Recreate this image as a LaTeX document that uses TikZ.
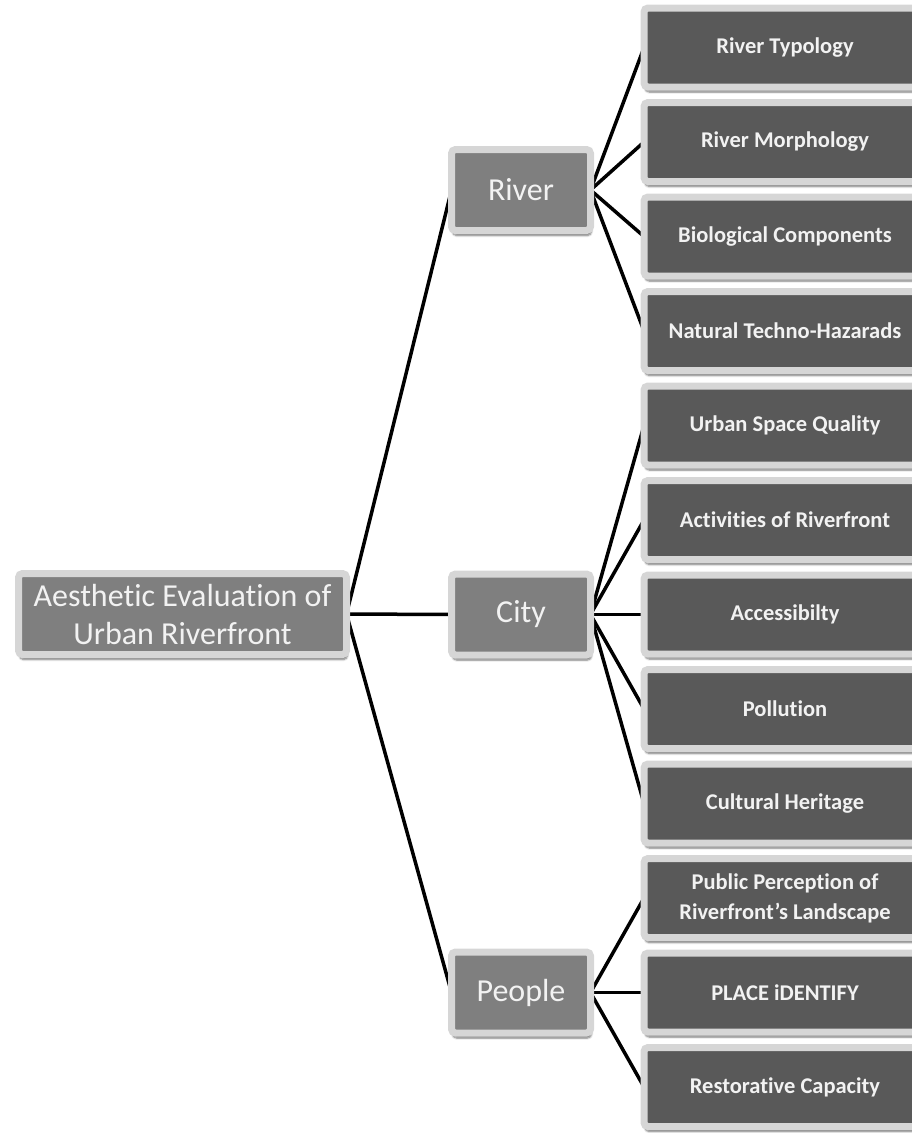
\documentclass[tikz,border=0pt]{standalone}
\usepackage{fontspec}
\setmainfont{Carlito}[Ligatures={TeX,NoCommon}]
\usetikzlibrary{shadows.blur,backgrounds}
\definecolor{midfill}{HTML}{7F7F7F}
\definecolor{leaffill}{HTML}{595959}
\definecolor{rim}{HTML}{D6D6D6}
\definecolor{txt}{HTML}{F2F2F2}
\begin{document}
\begin{tikzpicture}[x=1pt,y=-1pt,
  box/.style={rectangle, rounded corners=4pt, draw=rim, line width=7pt, text=txt,
    align=center, inner sep=0pt, outer sep=0pt,
    blur shadow={shadow xshift=1pt, shadow yshift=-5pt, shadow opacity=55, shadow blur steps=6}},
  rootbox/.style={box, fill=midfill, minimum width=328pt, minimum height=81pt,
    font=\fontsize{32}{38}\selectfont},
  midbox/.style={box, fill=midfill, minimum width=139pt, minimum height=81pt,
    font=\fontsize{32}{36}\selectfont},
  leafbox/.style={box, fill=leaffill, minimum width=282pt, minimum height=79pt,
    font=\bfseries\fontsize{22.5}{30}\selectfont},
  link/.style={line width=3.5pt, black}]
\useasboundingbox (0,0) rectangle (912,1133);

% root
\node[rootbox] (root) at (182.5,614) {Aesthetic Evaluation of\\Urban Riverfront};

% main branches
\node[midbox] (river)  at (521,190)   {River};
\node[midbox] (city)   at (521,614.5) {City};
\node[midbox] (people) at (521,992.5) {People};

% leaves
\node[leafbox] (l1)  at (785,47.5)   {River Typology};
\node[leafbox] (l2)  at (785,142)    {River Morphology};
\node[leafbox] (l3)  at (785,236.5)  {Biological Components};
\node[leafbox] (l4)  at (785,331)    {Natural Techno-Hazarads};
\node[leafbox] (l5)  at (785,425.5)  {Urban Space Quality};
\node[leafbox] (l6)  at (785,520)    {Activities of Riverfront};
\node[leafbox] (l7)  at (785,614.5)  {Accessibilty};
\node[leafbox] (l8)  at (785,709)    {Pollution};
\node[leafbox] (l9)  at (785,803.5)  {Cultural Heritage};
\node[leafbox] (l10) at (785,898)    {Public Perception of\\Riverfront's Landscape};
\node[leafbox] (l11) at (785,992.5)  {PLACE iDENTIFY};
\node[leafbox] (l12) at (785,1087)   {Restorative Capacity};

% connectors
\begin{scope}[on background layer]
  \draw[link] (root.east) -- (river.west);
  \draw[link] (root.east) -- (city.west);
  \draw[link] (root.east) -- (people.west);
  \foreach \k in {1,...,4} \draw[link] (river.east) -- (l\k.west);
  \foreach \k in {5,...,9} \draw[link] (city.east) -- (l\k.west);
  \foreach \k in {10,11,12} \draw[link] (people.east) -- (l\k.west);
\end{scope}
\end{tikzpicture}
\end{document}
